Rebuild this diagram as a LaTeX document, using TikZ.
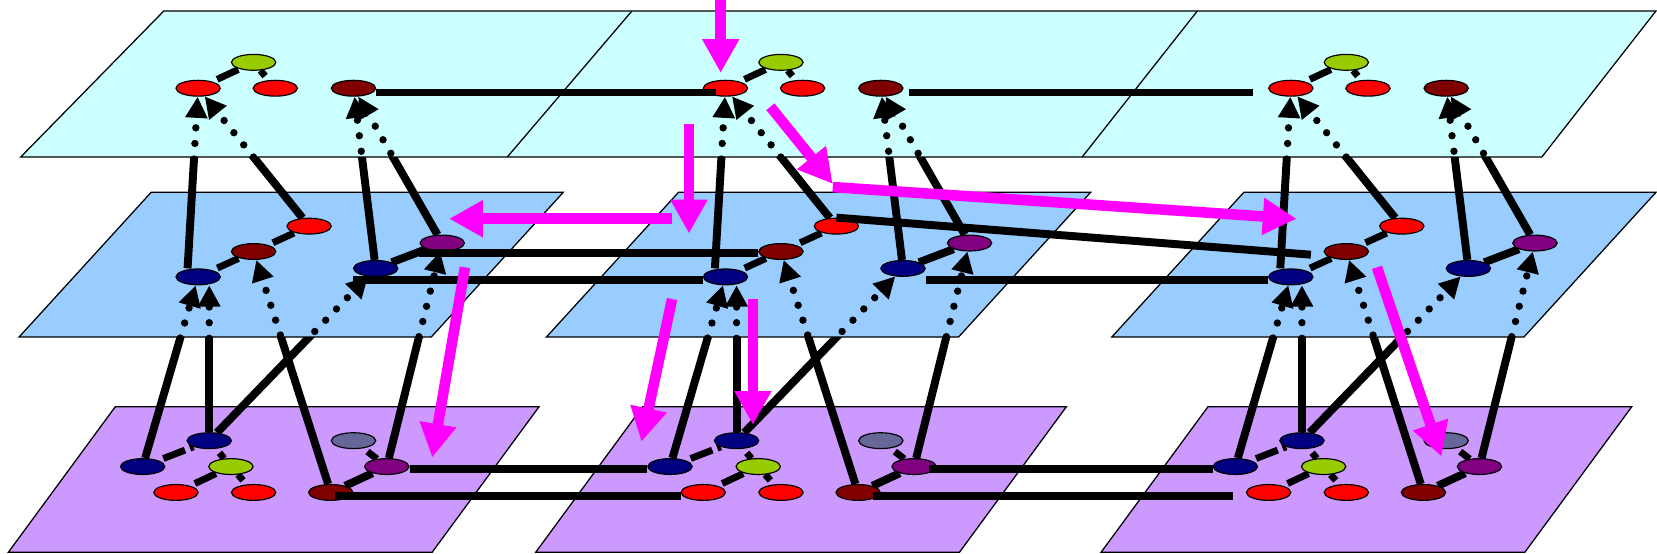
\documentclass[tikz,border=0pt]{standalone}
\usetikzlibrary{shapes.geometric,arrows.meta}

\definecolor{skyplane}{HTML}{CCFFFF}
\definecolor{blueplane}{HTML}{99CCFF}
\definecolor{lilacplane}{HTML}{CC99FF}
\definecolor{leaf}{HTML}{99CC00}
\definecolor{brick}{HTML}{800000}
\definecolor{deepnavy}{HTML}{000080}
\definecolor{plumnode}{HTML}{800080}
\definecolor{slate}{HTML}{666699}
\definecolor{hotpink}{HTML}{FF00FF}

\pgfdeclarelayer{planes}
\pgfdeclarelayer{wires}
\pgfsetlayers{planes,wires,main}

\tikzset{
  plane/.style={draw=black,line width=1.2pt},
  blob/.style={ellipse,draw=black,line width=1.1pt,minimum width=42pt,minimum height=15pt,inner sep=0pt},
  link/.style={line width=7.5pt},
  tie/.style={line width=6.5pt,dash pattern=on 22pt off 5pt,dash phase=22pt},
  hidden/.style={line width=7pt,line cap=round,dash pattern=on 0pt off 14.8pt,-{Triangle[length=20pt,width=20pt]}},
  move/.style={draw=hotpink,line width=10pt,-{Triangle[length=32pt,width=33pt]}}
}

\begin{document}
\begin{tikzpicture}[x=1pt,y=-1pt]
    \useasboundingbox (0,0) rectangle (1568,524);

    % top plane
    \node[blob,fill=leaf] (tg1) at (240,59) {};
    \node[blob,fill=red] (tl1) at (187.5,83.5) {};
    \node[blob,fill=red] (tr1) at (260.5,83.5) {};
    \node[blob,fill=brick] (tm1) at (334.5,83.5) {};

    \node[blob,fill=leaf] (tg2) at (240+499,59) {};
    \node[blob,fill=red] (tl2) at (187.5+499,83.5) {};
    \node[blob,fill=red] (tr2) at (260.5+499,83.5) {};
    \node[blob,fill=brick] (tm2) at (334.5+499,83.5) {};

    \node[blob,fill=leaf] (tg3) at (240+1034,59) {};
    \node[blob,fill=red] (tl3) at (187.5+1034,83.5) {};
    \node[blob,fill=red] (tr3) at (260.5+1034,83.5) {};
    \node[blob,fill=brick] (tm3) at (334.5+1034,83.5) {};

    % middle plane
    \node[blob,fill=red] (mr1) at (292.5,214) {};
    \node[blob,fill=brick] (mm1) at (240,238) {};
    \node[blob,fill=deepnavy] (mb1) at (187.5,262) {};
    \node[blob,fill=deepnavy] (mn1) at (355.5,254) {};
    \node[blob,fill=plumnode] (mp1) at (418.5,230) {};

    \node[blob,fill=red] (mr2) at (292.5+499,214) {};
    \node[blob,fill=brick] (mm2) at (240+499,238) {};
    \node[blob,fill=deepnavy] (mb2) at (187.5+499,262) {};
    \node[blob,fill=deepnavy] (mn2) at (355.5+499,254) {};
    \node[blob,fill=plumnode] (mp2) at (418.5+499,230) {};

    \node[blob,fill=red] (mr3) at (292.5+1034,214) {};
    \node[blob,fill=brick] (mm3) at (240+1034,238) {};
    \node[blob,fill=deepnavy] (mb3) at (187.5+1034,262) {};
    \node[blob,fill=deepnavy] (mn3) at (355.5+1034,254) {};
    \node[blob,fill=plumnode] (mp3) at (418.5+1034,230) {};

    % bottom plane
    \node[blob,fill=deepnavy] (bn1) at (198,417) {};
    \node[blob,fill=deepnavy] (bl1) at (135,441.5) {};
    \node[blob,fill=leaf] (bg1) at (218.5,441.5) {};
    \node[blob,fill=red] (bx1) at (166.5,466) {};
    \node[blob,fill=red] (by1) at (240,466) {};
    \node[blob,fill=brick] (bm1) at (313,466) {};
    \node[blob,fill=slate] (bs1) at (334.5,417) {};
    \node[blob,fill=plumnode] (bp1) at (366,441.5) {};

    \node[blob,fill=deepnavy] (bn2) at (198+499,417) {};
    \node[blob,fill=deepnavy] (bl2) at (135+499,441.5) {};
    \node[blob,fill=leaf] (bg2) at (218.5+499,441.5) {};
    \node[blob,fill=red] (bx2) at (166.5+499,466) {};
    \node[blob,fill=red] (by2) at (240+499,466) {};
    \node[blob,fill=brick] (bm2) at (313+499,466) {};
    \node[blob,fill=slate] (bs2) at (334.5+499,417) {};
    \node[blob,fill=plumnode] (bp2) at (366+499,441.5) {};

    \node[blob,fill=deepnavy] (bn3) at (198+1034,417) {};
    \node[blob,fill=deepnavy] (bl3) at (135+1034,441.5) {};
    \node[blob,fill=leaf] (bg3) at (218.5+1034,441.5) {};
    \node[blob,fill=red] (bx3) at (166.5+1034,466) {};
    \node[blob,fill=red] (by3) at (240+1034,466) {};
    \node[blob,fill=brick] (bm3) at (313+1034,466) {};
    \node[blob,fill=slate] (bs3) at (334.5+1034,417) {};
    \node[blob,fill=plumnode] (bp3) at (366+1034,441.5) {};

    \begin{pgfonlayer}{planes}
    \filldraw[plane,fill=lilacplane] (8,522.5)--(109,385)--(510,385)--(409,522.5)--cycle;
    \filldraw[plane,fill=lilacplane] (8+499,522.5)--(109+499,385)--(510+499,385)--(409+499,522.5)--cycle;
    \filldraw[plane,fill=lilacplane] (8+1034,522.5)--(109+1034,385)--(510+1034,385)--(409+1034,522.5)--cycle;

    \filldraw[plane,fill=blueplane] (18,319)--(143,182)--(533,182)--(408,319)--cycle;
    \filldraw[plane,fill=blueplane] (18+499,319)--(143+499,182)--(533+499,182)--(408+499,319)--cycle;
    \filldraw[plane,fill=blueplane] (18+1034,319)--(143+1034,182)--(533+1034,182)--(408+1034,319)--cycle;

    \filldraw[plane,fill=skyplane] (19.6,148.6)--(155,10.4)--(1567,10.4)--(1459,148.6)--cycle;
    \draw[plane] (480,148.6)--(598,10.4);
    \draw[plane] (1024,148.6)--(1133,10.4);
    \end{pgfonlayer}

    \begin{pgfonlayer}{wires}
    % middle up to top: solid below the top plane, dotted across it
    \begin{scope}
        \clip (0,148.6) rectangle (1568,524);
        \draw[link] ([xshift=-10pt]mb1.north) -- (tl1);
        \draw[link] (mr1) -- (tl1);
        \draw[link] (mn1) -- (tm1);
        \draw[link] (mp1) -- (tm1);
        \draw[link] ([xshift=-10pt]mb2.north) -- (tl2);
        \draw[link] (mr2) -- (tl2);
        \draw[link] (mn2) -- (tm2);
        \draw[link] (mp2) -- (tm2);
        \draw[link] ([xshift=-10pt]mb3.north) -- (tl3);
        \draw[link] (mr3) -- (tl3);
        \draw[link] (mn3) -- (tm3);
        \draw[link] (mp3) -- (tm3);
    \end{scope}
    \begin{scope}
        \clip (0,0) rectangle (1568,148.6);
        \draw[hidden] ([xshift=-10pt]mb1.north) -- (tl1);
        \draw[hidden] (mr1) -- (tl1);
        \draw[hidden] (mn1) -- (tm1);
        \draw[hidden] (mp1) -- (tm1);
        \draw[hidden] ([xshift=-10pt]mb2.north) -- (tl2);
        \draw[hidden] (mr2) -- (tl2);
        \draw[hidden] (mn2) -- (tm2);
        \draw[hidden] (mp2) -- (tm2);
        \draw[hidden] ([xshift=-10pt]mb3.north) -- (tl3);
        \draw[hidden] (mr3) -- (tl3);
        \draw[hidden] (mn3) -- (tm3);
        \draw[hidden] (mp3) -- (tm3);
    \end{scope}

    % bottom up to middle
    \begin{scope}
        \clip (0,319) rectangle (1568,524);
        \draw[link] (bl1) -- (mb1);
        \draw[link] (bn1) -- (bn1 |- mb1.south);
        \draw[link] (bm1) -- (mm1);
        \draw[link] (bn1) -- (mn1);
        \draw[link] (bp1) -- (mp1);
        \draw[link] (bl2) -- (mb2);
        \draw[link] (bn2) -- (bn2 |- mb2.south);
        \draw[link] (bm2) -- (mm2);
        \draw[link] (bn2) -- (mn2);
        \draw[link] (bp2) -- (mp2);
        \draw[link] (bl3) -- (mb3);
        \draw[link] (bn3) -- (bn3 |- mb3.south);
        \draw[link] (bm3) -- (mm3);
        \draw[link] (bn3) -- (mn3);
        \draw[link] (bp3) -- (mp3);
    \end{scope}
    \begin{scope}
        \clip (0,0) rectangle (1568,319);
        \draw[hidden] (bl1) -- (mb1);
        \draw[hidden] (bn1) -- (bn1 |- mb1.south);
        \draw[hidden] (bm1) -- (mm1);
        \draw[hidden] (bn1) -- (mn1);
        \draw[hidden] (bp1) -- (mp1);
        \draw[hidden] (bl2) -- (mb2);
        \draw[hidden] (bn2) -- (bn2 |- mb2.south);
        \draw[hidden] (bm2) -- (mm2);
        \draw[hidden] (bn2) -- (mn2);
        \draw[hidden] (bp2) -- (mp2);
        \draw[hidden] (bl3) -- (mb3);
        \draw[hidden] (bn3) -- (bn3 |- mb3.south);
        \draw[hidden] (bm3) -- (mm3);
        \draw[hidden] (bn3) -- (mn3);
        \draw[hidden] (bp3) -- (mp3);
    \end{scope}

    % inside each plane
    \draw[tie] (tl1) -- (tg1);
    \draw[tie] (tr1) -- (tg1);
    \draw[tie] (tl2) -- (tg2);
    \draw[tie] (tr2) -- (tg2);
    \draw[tie] (tl3) -- (tg3);
    \draw[tie] (tr3) -- (tg3);

    \draw[tie] (mb1) -- (mm1);
    \draw[tie] (mm1) -- (mr1);
    \draw[link] (mn1) -- (mp1);
    \draw[tie] (mb2) -- (mm2);
    \draw[tie] (mm2) -- (mr2);
    \draw[link] (mn2) -- (mp2);
    \draw[tie] (mb3) -- (mm3);
    \draw[tie] (mm3) -- (mr3);
    \draw[link] (mn3) -- (mp3);

    \draw[tie] (bl1) -- (bn1);
    \draw[tie] (bn1) -- (bg1);
    \draw[tie] (bx1) -- (bg1);
    \draw[tie] (by1) -- (bg1);
    \draw[tie] (bs1) -- (bp1);
    \draw[link] (bm1) -- (bp1);
    \draw[tie] (bl2) -- (bn2);
    \draw[tie] (bn2) -- (bg2);
    \draw[tie] (bx2) -- (bg2);
    \draw[tie] (by2) -- (bg2);
    \draw[tie] (bs2) -- (bp2);
    \draw[link] (bm2) -- (bp2);
    \draw[tie] (bl3) -- (bn3);
    \draw[tie] (bn3) -- (bg3);
    \draw[tie] (bx3) -- (bg3);
    \draw[tie] (by3) -- (bg3);
    \draw[tie] (bs3) -- (bp3);
    \draw[link] (bm3) -- (bp3);
    \end{pgfonlayer}

    % links between the columns
    \draw[link] ([yshift=-4pt]tm1.east) -- ([xshift=-9pt,yshift=-4pt]tl2.center);
    \draw[link] ([xshift=5pt,yshift=-4pt]tm2.east) -- ([xshift=-14pt,yshift=-4pt]tl3.west);

    \draw[link] ([yshift=-9.5pt]mp1.west) -- ([yshift=-1.5pt]mm2.west);
    \draw[link] ([yshift=-11pt]mn1.west) -- ([yshift=-3pt]mb2.west);
    \draw[link] ([yshift=-11pt]mn2.east) -- ([yshift=-3pt]mb3.west);
    \draw[link] (mr2.north) -- ([xshift=-12pt,yshift=-3pt]mm3.west);

    \draw[link] ([yshift=-2.5pt]bp1.east) -- ([yshift=-2.5pt]bl2.west);
    \draw[link] ([xshift=4pt,yshift=-3.3pt]bm1.center) -- ([yshift=-3.3pt]bx2.west);
    \draw[link] ([xshift=-7pt,yshift=-2.5pt]bp2.east) -- ([yshift=-2.5pt]bl3.west);
    \draw[link] ([xshift=14pt,yshift=-3.3pt]bm2.center) -- ([xshift=-12pt,yshift=-3.3pt]bx3.west);

    % magenta moves
    \coordinate (p1) at (682,0);      \coordinate (q1) at (682,69);
    \coordinate (p2) at (652,117);    \coordinate (q2) at (652,221);
    \coordinate (p3) at (636,207);    \coordinate (q3) at (425,207);
    \coordinate (p4) at (729,101);    \coordinate (q4) at (788,174);
    \coordinate (p5) at (788,177);    \coordinate (q5) at (1227,207);
    \coordinate (p6) at (440,253);    \coordinate (q6) at (409,433);
    \coordinate (p7) at (636,283);    \coordinate (q7) at (607,418);
    \coordinate (p8) at (712.5,283);  \coordinate (q8) at (712.5,402);
    \coordinate (p9) at (1303,253);   \coordinate (q9) at (1364,432);
    \draw[move] (p1) -- (q1);
    \draw[move] (p2) -- (q2);
    \draw[move] (p3) -- (q3);
    \draw[move] (p4) -- (q4);
    \draw[move] (p5) -- (q5);
    \draw[move] (p6) -- (q6);
    \draw[move] (p7) -- (q7);
    \draw[move] (p8) -- (q8);
    \draw[move] (p9) -- (q9);
\end{tikzpicture}
\end{document}
